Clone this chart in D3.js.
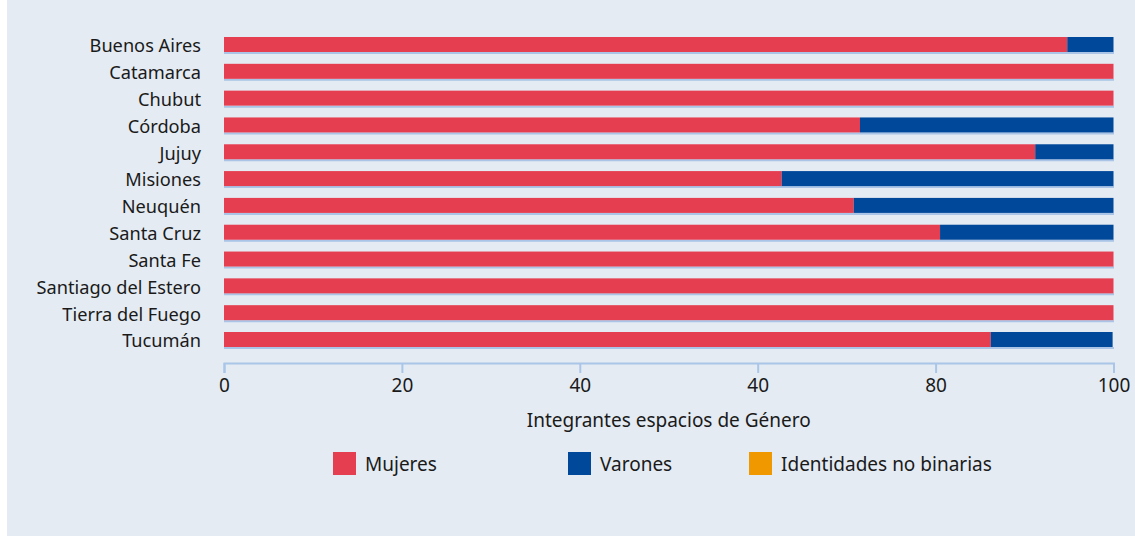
<!DOCTYPE html>
<html>
<head>
<meta charset="utf-8">
<script src="https://cdn.jsdelivr.net/npm/d3@7"></script>
<style>
  body { margin: 0; background: #ffffff; }
  svg { display: block; font-family: "Noto Sans", sans-serif; }
</style>
</head>
<body>
<div id="chart"></div>
<script>
// data
var provincias = ["Buenos Aires", "Catamarca", "Chubut", "Córdoba", "Jujuy", "Misiones",
                  "Neuquén", "Santa Cruz", "Santa Fe", "Santiago del Estero", "Tierra del Fuego", "Tucumán"];
var mujeres   = [94.8, 100, 100, 71.5, 91.2, 62.7, 70.8, 80.5, 100, 100, 100, 86.2];
var varones   = [5.2, 0, 0, 28.5, 8.8, 37.3, 29.2, 19.5, 0, 0, 0, 13.7];
var noBinarias = [0, 0, 0, 0, 0, 0, 0, 0, 0, 0, 0, 0];
var series = ["Mujeres", "Varones", "Identidades no binarias"];
var colores = ["#e53e51", "#00489a", "#f09800"];
var tickValues = [0, 20, 40, 60, 80, 100];
var tickLabels = ["0", "20", "40", "40", "80", "100"];   // as printed in the original
var ejeTitulo = "Integrantes espacios de Género";

// build rows for the stack
var rows = provincias.map(function(p, i){
    return { prov: p, "Mujeres": mujeres[i], "Varones": varones[i], "Identidades no binarias": noBinarias[i] };
});

var width = 1135, height = 536;
var svg = d3.select("#chart").append("svg")
    .attr("width", width)
    .attr("height", height);

// panel background
svg.append("rect")
    .attr("x", 7).attr("y", 0)
    .attr("width", width - 7).attr("height", height)
    .attr("fill", "#e4ebf2");

var x = d3.scaleLinear().domain([0, 100]).range([224, 1113.5]);
var y = d3.scalePoint().domain(provincias).range([44.5, 339.5]);
var barH = 15;
var color = d3.scaleOrdinal().domain(series).range(colores);

// light baseline under each row
svg.append("g").selectAll("line")
    .data(provincias)
    .enter().append("line")
    .attr("x1", x(0)).attr("x2", x(100) + 0.5)
    .attr("y1", function(d){ return y(d) + barH / 2 + 1; })
    .attr("y2", function(d){ return y(d) + barH / 2 + 1; })
    .attr("stroke", "#a9c4e6")
    .attr("stroke-width", 2);

var stacked = d3.stack().keys(series)(rows);

svg.append("g").selectAll("g")
    .data(stacked)
    .enter().append("g")
    .attr("fill", function(d){ return color(d.key); })
    .selectAll("rect")
    .data(function(d){ return d; })
    .enter().append("rect")
    .attr("x", function(d){ return x(d[0]); })
    .attr("y", function(d){ return y(d.data.prov) - barH / 2; })
    .attr("width", function(d){ return Math.max(0, x(d[1]) - x(d[0])); })
    .attr("height", barH);

// category labels
svg.append("g").selectAll("text")
    .data(provincias)
    .enter().append("text")
    .attr("x", 201)
    .attr("y", function(d){ return y(d) + 1.5; })
    .attr("dy", "0.35em")
    .attr("text-anchor", "end")
    .attr("font-size", 18.2)
    .attr("fill", "#1a1a1a")
    .text(function(d){ return d; });

// x axis
var axis = d3.axisBottom(x)
    .tickValues(tickValues)
    .tickFormat(function(d, i){ return tickLabels[i]; })
    .tickSize(10)
    .tickSizeOuter(10)
    .tickPadding(6);

var gx = svg.append("g")
    .attr("transform", "translate(0,363)")
    .call(axis);
gx.select(".domain").attr("stroke", "#a9c6e8").attr("stroke-width", 2);
gx.selectAll(".tick line").attr("stroke", "#a9c6e8").attr("stroke-width", 2);
gx.selectAll(".tick text")
    .attr("font-size", 19)
    .attr("font-family", "Noto Sans, sans-serif")
    .attr("fill", "#1a1a1a");

svg.append("text")
    .attr("x", (x(0) + x(100)) / 2)
    .attr("y", 420)
    .attr("dy", "0.35em")
    .attr("text-anchor", "middle")
    .attr("font-size", 19)
    .attr("fill", "#1a1a1a")
    .text(ejeTitulo);

// legend
var legendX = [333, 568, 749];
var lg = svg.append("g").selectAll("g")
    .data(series)
    .enter().append("g")
    .attr("transform", function(d, i){ return "translate(" + legendX[i] + ",452)"; });
lg.append("rect")
    .attr("width", 23).attr("height", 23)
    .attr("fill", function(d){ return color(d); });
lg.append("text")
    .attr("x", 32).attr("y", 12)
    .attr("dy", "0.35em")
    .attr("font-size", 19)
    .attr("fill", "#1a1a1a")
    .text(function(d){ return d; });
</script>
</body>
</html>
